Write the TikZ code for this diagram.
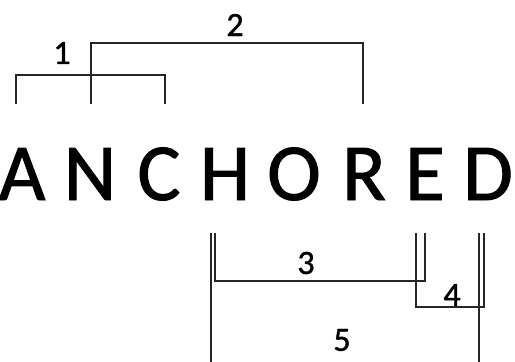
\documentclass[tikz,border=0pt]{standalone}
\usepackage{fontspec}
\setmainfont{Carlito}
\newfontfamily\heavyfont[FakeBold=1.2]{Carlito}
\begin{document}
\begin{tikzpicture}[x=1pt,y=-1pt,
  letter/.style={font=\heavyfont\fontsize{81}{81}\selectfont, inner sep=0pt, anchor=base},
  num/.style={font=\heavyfont\fontsize{34}{34}\selectfont, inner sep=0pt},
  br/.style={draw=black!85, line width=1.3pt}]
\useasboundingbox (0,0) rectangle (515,362);
% letters
\node[letter] (A) at (22,200) {A};
\node[letter] (N) at (90,200) {N};
\node[letter] (C) at (159,200) {C};
\node[letter] (H) at (225,200) {H};
\node[letter] (O) at (294,200) {O};
\node[letter] (R) at (364,200) {R};
\node[letter] (E) at (425,200) {E};
\node[letter] (D) at (488,200) {D};
% bracket end points
\coordinate (a1) at (16,104);
\coordinate (n1) at (91,104);
\coordinate (c1) at (165,104);
\coordinate (r1) at (363,104);
\coordinate (h5) at (211,233);
\coordinate (h3) at (215,233);
\coordinate (e4) at (416,233);
\coordinate (e3) at (425,233);
\coordinate (d5) at (479,233);
\coordinate (d4) at (484,233);
\coordinate (h5b) at (211,362);
\coordinate (d5b) at (479,362);
% brackets
\draw[br] (a1) -- ++(0,-29) -| (c1);
\draw[br] (n1) -- ++(0,-61) -| (r1);
\draw[br] (h3) -- ++(0,48) -| (e3);
\draw[br] (e4) -- ++(0,74) -| (d4);
\draw[br] (h5) -- (h5b);
\draw[br] (d5) -- (d5b);
% labels
\node[num] (l1) at (62,53) {1};
\node[num] (l2) at (235,25) {2};
\node[num] (l3) at (306,263) {3};
\node[num] (l4) at (452,295) {4};
\node[num] (l5) at (342,340) {5};
\end{tikzpicture}
\end{document}
